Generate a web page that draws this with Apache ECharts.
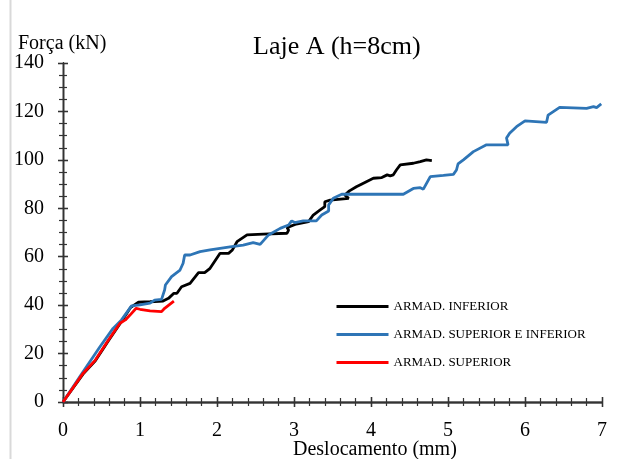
<!DOCTYPE html>
<html>
<head>
<meta charset="utf-8">
<script src="https://cdn.jsdelivr.net/npm/echarts@6/dist/echarts.min.js"></script>
<style>
  html, body { margin: 0; padding: 0; background: #fff; }
  #chart { width: 644px; height: 459px; }
</style>
</head>
<body>
<div id="chart"></div>
<script>
// [deslocamento (mm), força (kN)]
const inferior = [
  [0, 0], [0.26, 11.5], [0.42, 17], [0.59, 25.3], [0.74, 32.3], [0.88, 39.1], [0.98, 41.2],
  [1.13, 41.4], [1.3, 41.7], [1.37, 42.8], [1.44, 44.9], [1.48, 44.9], [1.54, 47.6],
  [1.65, 49], [1.76, 53.4], [1.84, 53.4], [1.91, 55.2], [2.04, 61.4], [2.15, 61.4],
  [2.2, 62.8], [2.26, 66.2], [2.39, 69], [2.6, 69.3], [2.91, 69.7], [2.93, 71],
  [2.91, 72], [3.03, 73.5], [3.19, 74.5], [3.25, 77.2], [3.34, 79.3], [3.4, 80.7],
  [3.4, 82.7], [3.47, 83.4], [3.71, 84.1], [3.66, 85.5], [3.72, 87.2], [3.81, 88.9],
  [3.94, 91], [4.03, 92.4], [4.14, 92.7], [4.21, 93.8], [4.25, 93.4], [4.29, 93.8],
  [4.33, 95.8], [4.38, 97.9], [4.55, 98.6], [4.64, 99.3], [4.72, 100], [4.79, 99.7]
];
const superiorInferior = [
  [0, 0], [0.25, 12], [0.48, 22.8], [0.65, 30.4], [0.76, 33.9], [0.89, 39.7], [1.0, 40.1],
  [1.13, 40.8], [1.19, 42.1], [1.28, 42.4], [1.32, 46.3], [1.33, 48.3], [1.41, 51.8],
  [1.52, 54.5], [1.56, 57.3], [1.58, 60.7], [1.65, 60.7], [1.78, 62.1], [1.91, 62.8],
  [2.17, 64.1], [2.34, 64.8], [2.47, 65.8], [2.56, 65.1], [2.67, 69], [2.82, 71.7],
  [2.93, 73.1], [2.97, 74.8], [3.01, 74.1], [3.12, 74.8], [3.29, 74.8], [3.36, 77.2],
  [3.45, 78.9], [3.45, 81.4], [3.51, 84.1], [3.62, 85.8], [3.73, 85.8], [4.42, 85.8],
  [4.55, 88.2], [4.64, 88.5], [4.68, 87.9], [4.77, 93.1], [4.94, 93.6], [5.07, 94],
  [5.11, 95.8], [5.13, 98.3], [5.2, 100], [5.33, 103.4], [5.5, 106.2], [5.78, 106.2],
  [5.76, 109], [5.8, 111], [5.89, 113.7], [6.0, 116.1], [6.28, 115.5], [6.3, 118.5],
  [6.45, 121.7], [6.8, 121.3], [6.89, 122], [6.93, 121.6], [6.99, 123.1]
];
const superior = [
  [0, 0], [0.26, 11.8], [0.42, 17.3], [0.59, 25.6], [0.74, 32.5], [0.81, 33.9],
  [0.87, 35.9], [0.95, 38.7], [1.0, 38.3], [1.13, 37.6], [1.28, 37.3], [1.32, 38.7],
  [1.44, 41.7]
];
const seriesNames = ['ARMAD. INFERIOR', 'ARMAD. SUPERIOR E INFERIOR', 'ARMAD. SUPERIOR'];
const seriesColors = ['#000000', '#2E75B6', '#FF0000'];

const serif = 'Liberation Serif';
const axisColor = '#333333';

const chart = echarts.init(document.getElementById('chart'));

function xAx(position, inside, labels) {
  return {
    type: 'value', min: 0, max: 7, interval: 1, position: position,
    axisLine: { show: true, lineStyle: { color: axisColor, width: 1.3 } },
    axisTick: { show: true, inside: inside, length: 5, lineStyle: { color: axisColor, width: 1.3 } },
    minorTick: { show: inside, splitNumber: 5, length: 4, lineStyle: { color: axisColor, width: 1.2 } },
    axisLabel: { show: labels, margin: 19, color: '#000', fontFamily: serif, fontSize: 20 },
    splitLine: { show: false }
  };
}
function yAx(position, inside, labels) {
  return {
    type: 'value', min: 0, max: 140, interval: 20, position: position,
    axisLine: { show: true, lineStyle: { color: axisColor, width: 1.3 } },
    axisTick: { show: true, inside: inside, length: 5, lineStyle: { color: axisColor, width: 1.3 } },
    minorTick: { show: inside, splitNumber: 4, length: 4, lineStyle: { color: axisColor, width: 1.2 } },
    axisLabel: { show: labels, margin: 19, color: '#000', fontFamily: serif, fontSize: 20 },
    splitLine: { show: false }
  };
}

chart.setOption({
  animation: false,
  grid: { left: 63, right: 42, top: 63, bottom: 57 },
  xAxis: [xAx('bottom', true, true), xAx('bottom', false, false), xAx('top', true, false), xAx('top', false, false)],
  yAxis: [yAx('left', true, true), yAx('left', false, false), yAx('right', true, false), yAx('right', false, false)],
  legend: {
    orient: 'vertical', left: 330, top: 295,
    itemWidth: 52, itemHeight: 14, itemGap: 15,
    itemStyle: { opacity: 0 },
    lineStyle: { width: 3 },
    textStyle: { fontFamily: serif, fontSize: 13, color: '#000' },
    data: seriesNames
  },
  graphic: [
    { type: 'line', shape: { x1: 10.5, y1: 0, x2: 10.5, y2: 459 }, style: { stroke: '#d9d9d9', lineWidth: 2 } },
    { type: 'text', left: 253, top: 34, style: { text: 'Laje A (h=8cm)', font: '26px "Liberation Serif"', fill: '#000' } },
    { type: 'text', left: 18, top: 34, style: { text: 'Força (kN)', font: '20px "Liberation Serif"', fill: '#000' } },
    { type: 'text', left: 293, top: 440, style: { text: 'Deslocamento (mm)', font: '20px "Liberation Serif"', fill: '#000' } }
  ],
  series: [inferior, superiorInferior, superior].map((d, i) => ({
    name: seriesNames[i],
    type: 'line',
    data: d,
    symbol: 'none',
    color: seriesColors[i],
    lineStyle: { color: seriesColors[i], width: 2.8 },
    z: 3 + i
  }))
});
</script>
</body>
</html>
